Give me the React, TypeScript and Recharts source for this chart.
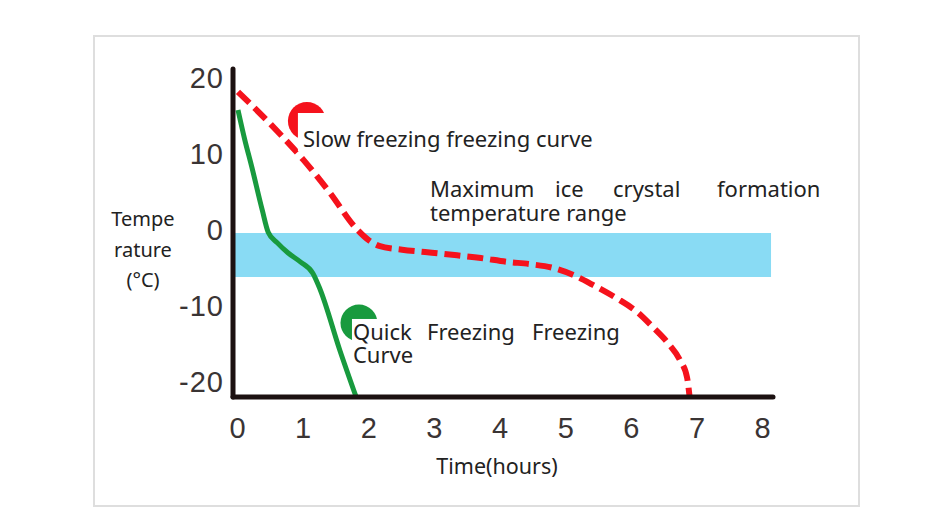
import React from "react";
import {
  LineChart,
  Line,
  XAxis,
  YAxis,
  ReferenceArea,
  ReferenceDot,
  Label,
} from "recharts";

// axis ticks
const timeTicks = [0, 1, 2, 3, 4, 5, 6, 7, 8];
const tempTicks = [-20, -10, 0, 10, 20];

// slow freezing curve (red dashed)
const slowTime = [0, 0.5, 1, 1.4, 1.8, 2.0, 2.15, 2.5, 2.85, 3.3, 3.7, 4.1, 4.45, 4.8, 5.1, 5.4, 5.77, 6.08, 6.32, 6.55, 6.73, 6.84, 6.88];
const slowTemp = [18.2, 13.9, 9.2, 4.9, 0.2, -1.4, -2.1, -2.6, -2.9, -3.3, -3.7, -4.2, -4.5, -5.0, -5.9, -7.2, -9.0, -10.8, -12.8, -14.9, -17.1, -19.4, -22];

// quick freezing curve (green)
const quickTime = [0, 0.1, 0.21, 0.37, 0.46, 0.6, 0.76, 0.95, 1.14, 1.25, 1.55, 1.8];
const quickTemp = [15.8, 12.0, 8.3, 2.6, -0.3, -1.7, -3.0, -4.2, -5.7, -7.8, -15.8, -22];

// maximum ice crystal formation band
const iceTop = -0.4;
const iceBottom = -6.2;

// annotation text
const slowLabel = "Slow freezing freezing curve";
const quickWords = ["Quick", "Freezing", "Freezing"];
const quickLine2 = "Curve";
const iceWords = ["Maximum", "ice", "crystal", "formation"];
const iceLine2 = "temperature range";
const yTitle = ["Tempe", "rature", "(°C)"];
const xTitle = "Time(hours)";

const slowData = slowTime.map((t, i) => ({ t, v: slowTemp[i] }));
const quickData = quickTime.map((t, i) => ({ t, v: quickTemp[i] }));

const RED = "#f5121c";
const GREEN = "#189a3e";
const BAND = "#89dbf4";
const AXIS = "#1c1111";
const TXT = "#222";
const FONT = "'Noto Sans', sans-serif";

const noteStyle = { fontFamily: FONT, fontSize: 22, fill: TXT };
const titleStyle = { fontFamily: FONT, fontSize: 20, fill: TXT };

function SlowNote({ cx, cy }: any) {
  return (
    <g>
      <circle cx={cx} cy={cy} r={19} fill={RED} />
      <rect x={cx - 9} y={cy - 8} width={305} height={38} fill="#fff" />
      <text x={cx - 4} y={cy + 26} {...noteStyle}>
        {slowLabel}
      </text>
    </g>
  );
}

// first line is spread out word by word (justified in the original)
function QuickNote({ cx, cy }: any) {
  const offs = [-6, 68, 173];
  return (
    <g>
      <circle cx={cx} cy={cy} r={18.5} fill={GREEN} />
      <rect x={cx - 7} y={cy - 4} width={280} height={52} fill="#fff" />
      <text {...noteStyle}>
        {quickWords.map((w, i) => (
          <tspan key={i} x={cx + offs[i]} y={cy + 17}>
            {w}
          </tspan>
        ))}
        <tspan x={cx - 6} y={cy + 40}>
          {quickLine2}
        </tspan>
      </text>
    </g>
  );
}

function IceNote({ cx, cy }: any) {
  const offs = [0, 125, 183, 287];
  return (
    <text {...noteStyle}>
      {iceWords.map((w, i) => (
        <tspan key={i} x={cx + offs[i]} y={cy}>
          {w}
        </tspan>
      ))}
      <tspan x={cx} y={cy + 24}>
        {iceLine2}
      </tspan>
    </text>
  );
}

function YTitle({ viewBox }: any) {
  const x = viewBox.x + 50;
  return (
    <text textAnchor="middle" {...titleStyle}>
      {yTitle.map((s, i) => (
        <tspan key={i} x={x} y={viewBox.y + 157 + i * 30.5}>
          {s}
        </tspan>
      ))}
    </text>
  );
}

function XTitle({ viewBox }: any) {
  return (
    <text
      x={viewBox.x + viewBox.width / 2 - 6}
      y={viewBox.y + 77}
      textAnchor="middle"
      {...titleStyle}
      fontSize={21.5}
    >
      {xTitle}
    </text>
  );
}

const tickStyle = {
  fontSize: 29,
  fill: "#3a3434",
  letterSpacing: 1,
  fontFamily: "'Liberation Sans', Arial, sans-serif",
};

export default function App() {
  return (
    <div style={{ position: "absolute", left: 0, top: 0, width: 950, height: 520, background: "#fff" }}>
      <div
        style={{
          position: "absolute",
          left: 93,
          top: 35,
          width: 763,
          height: 468,
          border: "2px solid #dedede",
        }}
      />
      <div style={{ position: "absolute", left: 0, top: 0 }}>
        <LineChart width={950} height={520} margin={{ top: 69, right: 177, bottom: 83, left: 93 }}>
          <XAxis
            dataKey="t"
            type="number"
            domain={[-0.076, 8.15]}
            ticks={timeTicks}
            allowDataOverflow
            height={40}
            axisLine={{ stroke: AXIS, strokeWidth: 5, strokeLinecap: "round" }}
            tickLine={false}
            tickSize={0}
            tickMargin={20}
            tick={tickStyle}
          >
            <Label content={<XTitle />} />
          </XAxis>
          <YAxis
            type="number"
            domain={[-22, 21.2]}
            ticks={tempTicks}
            allowDataOverflow
            width={140}
            axisLine={{ stroke: AXIS, strokeWidth: 5, strokeLinecap: "round" }}
            tickLine={false}
            tickSize={0}
            tickMargin={9}
            tick={tickStyle}
          >
            <Label content={<YTitle />} />
          </YAxis>
          <ReferenceArea
            x1={-0.076}
            x2={8.12}
            y1={iceBottom}
            y2={iceTop}
            fill={BAND}
            fillOpacity={1}
            stroke="none"
            ifOverflow="visible"
          />
          <Line
            data={quickData}
            dataKey="v"
            type="monotone"
            stroke={GREEN}
            strokeWidth={5}
            dot={false}
            activeDot={false}
            isAnimationActive={false}
          />
          <Line
            data={slowData}
            dataKey="v"
            type="monotone"
            stroke={RED}
            strokeWidth={6}
            strokeDasharray="16 7"
            dot={false}
            activeDot={false}
            isAnimationActive={false}
          />
          <ReferenceDot x={1.05} y={14.35} r={19} ifOverflow="visible" shape={(p: any) => <SlowNote {...p} />} />
          <ReferenceDot x={1.843} y={-12.25} r={18} ifOverflow="visible" shape={(p: any) => <QuickNote {...p} />} />
          <ReferenceDot x={2.925} y={4.34} r={0} ifOverflow="visible" shape={(p: any) => <IceNote {...p} />} />
        </LineChart>
      </div>
    </div>
  );
}
